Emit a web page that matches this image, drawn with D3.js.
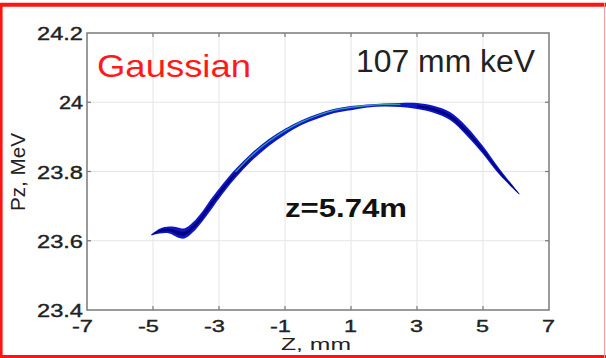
<!DOCTYPE html>
<html>
<head>
<meta charset="utf-8">
<script src="https://cdn.jsdelivr.net/npm/d3@7"></script>
<style>
  body { margin: 0; background: #fff; }
  svg { display: block; }
  text { font-family: Arial, "Liberation Sans", sans-serif; }
</style>
</head>
<body>
<div id="chart"></div>
<script>
// axis ticks
const xTicks = [-7, -5, -3, -1, 1, 3, 5, 7];
const yTicks = [23.4, 23.6, 23.8, 24, 24.2];

// beam centre line (Z in mm, Pz in MeV) and half-thickness of the band in MeV
const beamZ  = [-5.05, -4.8, -4.5, -4.25, -4.05, -3.8, -3.5, -3.25, -3.0, -2.5, -2.0, -1.5, -1.0, -0.5,
                0, 0.5, 1.0, 1.5, 2.0, 2.5, 3.0, 3.5, 4.0, 4.5, 5.0, 5.5, 6.1];
const beamPz = [23.617, 23.628, 23.631, 23.624, 23.621, 23.638, 23.671, 23.704, 23.736, 23.794, 23.843,
                23.883, 23.915, 23.941, 23.960, 23.975, 23.983, 23.989, 23.992, 23.992, 23.989, 23.980,
                23.960, 23.917, 23.862, 23.799, 23.735];
const beamHalf = [0.0015, 0.007, 0.010, 0.0145, 0.0145, 0.0145, 0.0145, 0.016, 0.0145, 0.013, 0.0115,
                  0.010, 0.0087, 0.007, 0.007, 0.006, 0.006, 0.0045, 0.0045, 0.006, 0.0087, 0.010,
                  0.0115, 0.013, 0.0115, 0.0087, 0.0015];

const titleText = "Gaussian";
const emitText = "107 mm keV";
const posText = "z=5.74m";
const xLabel = "Z, mm";
const yLabel = "Pz, MeV";

const W = 606, H = 358;
const margin = {top: 33, right: 57, bottom: 48, left: 87};

const svg = d3.select("#chart").append("svg")
    .attr("width", W)
    .attr("height", H);

svg.append("rect").attr("width", W).attr("height", H).attr("fill", "#fff");

const width = W - margin.left - margin.right;
const height = H - margin.top - margin.bottom;

const x = d3.scaleLinear().domain([-7, 7]).range([margin.left, margin.left + width]);
const y = d3.scaleLinear().domain([23.4, 24.2]).range([margin.top + height, margin.top]);

// grid
svg.append("g").selectAll("line")
    .data(xTicks.slice(1, -1))
    .join("line")
    .attr("x1", d => x(d)).attr("x2", d => x(d))
    .attr("y1", y(23.4)).attr("y2", y(24.2))
    .attr("stroke", "#e4e4e4").attr("stroke-width", 1);
svg.append("g").selectAll("line")
    .data(yTicks.slice(1, -1))
    .join("line")
    .attr("x1", x(-7)).attr("x2", x(7))
    .attr("y1", d => y(d)).attr("y2", d => y(d))
    .attr("stroke", "#e4e4e4").attr("stroke-width", 1);

// beam
const beam = beamZ.map((z, i) => ({z: z, pz: beamPz[i], h: beamHalf[i]}));

const defs = svg.append("defs");
defs.append("filter").attr("id", "soft")
    .append("feGaussianBlur").attr("stdDeviation", 0.6);

const g = svg.append("g").attr("filter", "url(#soft)");

const band = d3.area()
    .x(d => x(d.z))
    .y0(d => y(d.pz - d.h))
    .y1(d => y(d.pz + d.h))
    .curve(d3.curveCatmullRom);

g.append("path").datum(beam)
    .attr("d", band)
    .attr("fill", "#0c16c8");

// darker core in the thick parts (two separate pieces)
const core = d3.area()
    .x(d => x(d.z))
    .y0(d => y(d.pz - d.h * 0.45))
    .y1(d => y(d.pz + d.h * 0.35))
    .curve(d3.curveCatmullRom);

g.selectAll(".core")
    .data([beam.filter(d => d.z <= -2), beam.filter(d => d.z >= 3)])
    .join("path")
    .attr("class", "core")
    .attr("d", core)
    .attr("fill", "#00006c")
    .attr("opacity", 0.8);

// lighter streak along the top of the thin middle part
const streak = d3.line()
    .x(d => x(d.z))
    .y(d => y(d.pz + d.h * 0.35))
    .curve(d3.curveCatmullRom);

g.append("path").datum(beam.filter(d => d.z >= -2.5 && d.z <= 2.5))
    .attr("d", streak)
    .attr("fill", "none")
    .attr("stroke", "#3cb4a4")
    .attr("stroke-width", 1.3)
    .attr("opacity", 0.85);

// axes box and inward ticks
const axisColor = "#7a7a7a";
svg.append("rect")
    .attr("x", x(-7)).attr("y", y(24.2))
    .attr("width", x(7) - x(-7)).attr("height", y(23.4) - y(24.2))
    .attr("fill", "none").attr("stroke", axisColor).attr("stroke-width", 1.5);

const tickLen = 4;
const ticks = svg.append("g").attr("stroke", axisColor).attr("stroke-width", 1.2);
xTicks.slice(1, -1).forEach(d => {
    ticks.append("line").attr("x1", x(d)).attr("x2", x(d)).attr("y1", y(23.4)).attr("y2", y(23.4) - tickLen);
    ticks.append("line").attr("x1", x(d)).attr("x2", x(d)).attr("y1", y(24.2)).attr("y2", y(24.2) + tickLen);
});
yTicks.slice(1, -1).forEach(d => {
    ticks.append("line").attr("x1", x(-7)).attr("x2", x(-7) + tickLen).attr("y1", y(d)).attr("y2", y(d));
    ticks.append("line").attr("x1", x(7)).attr("x2", x(7) - tickLen).attr("y1", y(d)).attr("y2", y(d));
});

// tick labels
svg.append("g").selectAll("text")
    .data(yTicks)
    .join("text")
    .attr("x", x(-7) - 4)
    .attr("y", d => y(d) + 7)
    .attr("text-anchor", "end")
    .attr("font-size", 19)
    .attr("fill", "#222")
    .attr("stroke", "#222").attr("stroke-width", 0.4)
    .attr("textLength", d => String(d).length > 2 ? 46 : 24)
    .attr("lengthAdjust", "spacingAndGlyphs")
    .text(d => String(d));

svg.append("g").selectAll("text")
    .data(xTicks)
    .join("text")
    .attr("x", d => x(d) + 6)
    .attr("y", y(23.4) + 22)
    .attr("text-anchor", "end")
    .attr("font-size", 16)
    .attr("fill", "#222")
    .attr("stroke", "#222").attr("stroke-width", 0.35)
    .attr("textLength", d => d < 0 ? 21 : 13)
    .attr("lengthAdjust", "spacingAndGlyphs")
    .text(d => String(d));

// axis labels
svg.append("text")
    .attr("x", 316).attr("y", 350)
    .attr("text-anchor", "middle")
    .attr("font-size", 16)
    .attr("fill", "#222")
    .attr("textLength", 70)
    .attr("lengthAdjust", "spacingAndGlyphs")
    .text(xLabel);

svg.append("text")
    .attr("transform", "translate(25,172) rotate(-90)")
    .attr("text-anchor", "middle")
    .attr("font-size", 20)
    .attr("fill", "#222")
    .attr("textLength", 78)
    .attr("lengthAdjust", "spacingAndGlyphs")
    .text(yLabel);

// annotations
svg.append("text")
    .attr("x", 97).attr("y", 77)
    .attr("font-size", 32)
    .attr("fill", "#ff1a1a")
    .attr("textLength", 154)
    .attr("lengthAdjust", "spacingAndGlyphs")
    .text(titleText);

svg.append("text")
    .attr("x", 356).attr("y", 72)
    .attr("font-size", 31)
    .attr("fill", "#222")
    .attr("textLength", 179)
    .attr("lengthAdjust", "spacingAndGlyphs")
    .text(emitText);

svg.append("text")
    .attr("x", 285).attr("y", 217)
    .attr("font-size", 26)
    .attr("font-weight", "bold")
    .attr("fill", "#111")
    .attr("textLength", 122)
    .attr("lengthAdjust", "spacingAndGlyphs")
    .text(posText);

// red frame
const frame = svg.append("g").attr("stroke", "#ff1414");
frame.append("line").attr("x1", 0).attr("x2", W).attr("y1", 4.7).attr("y2", 4.7).attr("stroke-width", 4);
frame.append("line").attr("x1", 1.3).attr("x2", 1.3).attr("y1", 3).attr("y2", H).attr("stroke-width", 2.6);
frame.append("line").attr("x1", 0).attr("x2", W).attr("y1", 356.5).attr("y2", 356.5).attr("stroke-width", 3);
frame.append("line").attr("x1", 604.5).attr("x2", 604.5).attr("y1", 3).attr("y2", H)
    .attr("stroke", "#f99").attr("stroke-width", 1);
</script>
</body>
</html>
